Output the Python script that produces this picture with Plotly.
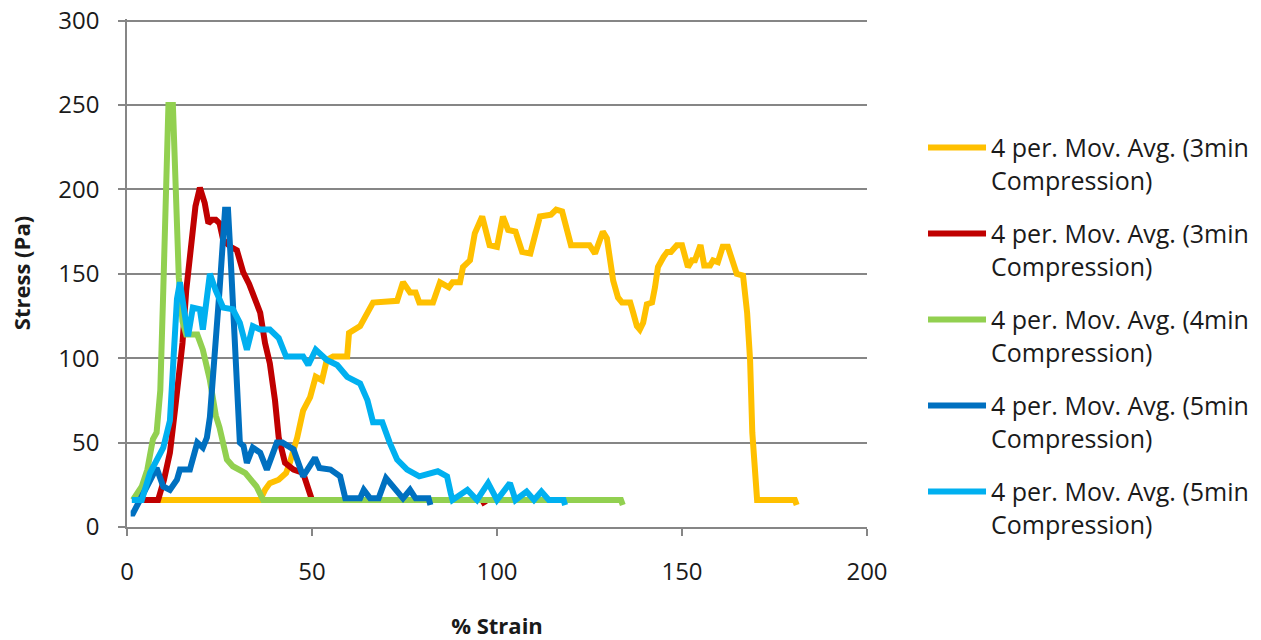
import plotly.graph_objects as go

# ---- data ----
names = ["4 per. Mov. Avg. (3min<br>Compression)"] * 2 + \
        ["4 per. Mov. Avg. (4min<br>Compression)"] + \
        ["4 per. Mov. Avg. (5min<br>Compression)"] * 2
colors = ["#FFC000", "#C00000", "#92D050", "#0070C0", "#00B0F0"]

yellow_x = [2, 36, 37.3, 38.6, 41, 43, 44, 46, 47.6, 49.5, 51, 52.7, 54, 55.7, 59.5, 60, 63, 65, 66.5, 73,
            74.6, 76.5, 78, 79, 82.7, 84.6, 87, 88, 90, 90.8, 92.7, 94, 96, 98, 100, 101.6, 103, 105, 106.8,
            109, 110, 111.6, 114.6, 116, 117.6, 119, 120, 125, 126.5, 128.6, 129.7, 131.4, 132.7, 133.8, 136,
            136.8, 137.8, 138.6, 139.5, 140.5, 141.9, 142.7, 143.5, 145, 146, 147, 148.6, 150, 150.8, 151.6,
            152.7, 153.5, 155, 156, 157.6, 158.4, 159.7, 161, 162.4, 163.8, 164.8, 166.5, 167.6, 168.4, 169,
            170.3, 180.5, 181]
yellow_y = [16, 16, 22, 26, 28, 32, 38, 53, 69, 77, 89, 87, 99, 101, 101, 115, 119, 127, 133, 134,
            145, 139, 139, 133, 133, 145, 142, 145, 145, 154, 158, 174, 184, 167, 166, 184, 176, 175, 163,
            162, 170, 184, 185, 188, 187, 174, 167, 167, 162, 175, 171, 146, 136, 133, 133,
            127, 119, 117, 121, 132, 133, 142, 154, 160, 163, 163, 167, 167, 159, 154,
            158, 158, 167, 155, 155, 158, 157, 166, 166, 155, 150, 149, 127, 99, 56,
            16, 16, 13]

red_x = [2, 8.4, 10, 11.6, 13, 15, 16, 17.5, 18.5, 19.7, 21, 22, 23, 24, 25, 26, 28, 29.7, 31.4, 33, 35,
         36, 37.3, 38.6, 40, 41, 42.7, 45, 47.6, 49.5, 50, 96, 96.8]
red_y = [16, 16, 28, 44, 70, 109, 140, 170, 190, 201, 192, 180, 182, 182, 180, 170, 166, 164, 151, 144, 134,
         127, 109, 97, 75, 53, 38, 34, 32, 20, 16, 16, 13]

green_x = [1.6, 4, 5.5, 7, 8, 9, 9.8, 10.7, 11.2, 12.4, 13, 14, 15, 16, 17, 19, 20.5, 22.4, 24, 25, 27,
           28.6, 32, 35, 36.8, 38, 133.5, 134]
green_y = [16, 24, 34, 52, 56, 81, 140, 229, 250, 250, 200, 148, 122, 114, 114, 114, 105, 87, 66, 59, 40,
           36, 32, 24, 16, 16, 16, 13]

dblue_x = [1, 1.6, 3.5, 6.2, 8, 9.8, 11.6, 13.5, 14.3, 17, 19, 20.5, 21.6, 22.4, 23, 24, 25, 26.5, 27.3,
           28, 29, 29.7, 30.5, 31.5, 32.4, 34, 36, 37.8, 40.5, 42, 45, 47.6, 50.8, 52, 55, 57.6, 59, 63, 64,
           65.7, 68, 70, 73, 74.6, 76.5, 78, 81.5, 82]
dblue_y = [8, 8, 16, 28, 35, 24, 22, 28, 34, 34, 50, 47, 53, 65, 81, 110, 140, 188, 188,
           160, 110, 75, 50, 48, 38, 47, 44, 34, 50, 50, 46, 30, 41, 35, 34, 30, 17, 17, 22,
           17, 17, 29, 22, 17, 22, 17, 17, 13]

lblue_x = [1.3, 4, 6.2, 8, 9.8, 11.6, 12.4, 13.5, 14.3, 15, 16.5, 17.8, 19.7, 20.5, 22.4, 24, 26, 28.6,
           30.5, 32.4, 34, 36, 38.6, 41, 43, 47.6, 49, 51, 54, 56.8, 59.5, 63, 65, 66.5, 69, 71, 73, 75.7,
           79, 84, 86.5, 87.5, 88, 92, 94.6, 97.6, 100, 103.5, 105, 108, 110, 112, 114, 118, 118.4]
lblue_y = [16, 16, 32, 40, 47, 63, 101, 135, 145, 133, 113, 130, 129, 117, 150, 140, 130, 129,
           121, 105, 119, 117, 117, 112, 101, 101, 96, 105, 99, 96, 89, 85, 75, 62, 62, 50, 40, 34,
           30, 33, 30, 20, 16, 22, 16, 26, 16, 26, 16, 21, 16, 21, 16, 16, 13]

xs = [yellow_x, red_x, green_x, dblue_x, lblue_x]
ys = [yellow_y, red_y, green_y, dblue_y, lblue_y]

x_ticks = [0, 50, 100, 150, 200]
y_ticks = [0, 50, 100, 150, 200, 250, 300]

FONT = "Open Sans"
TXT = "#1a1a1a"
GRID = "#868686"

fig = go.Figure()
for i in range(5):
    fig.add_trace(go.Scatter(
        x=xs[i], y=ys[i], mode="lines", name=names[i],
        legendgroup="g%d" % i,
        line=dict(color=colors[i], width=6),
    ))

fig.update_layout(
    width=1261, height=640,
    margin=dict(l=127, r=394, t=19, b=113, autoexpand=False),
    paper_bgcolor="white", plot_bgcolor="white",
    font=dict(family=FONT, size=24, color=TXT),
    showlegend=True,
    legend=dict(
        x=1.0757, xanchor="left", y=0.792, yanchor="top",
        valign="top", itemwidth=58, tracegroupgap=18,
        font=dict(family=FONT, size=25, color=TXT),
        bgcolor="rgba(0,0,0,0)",
    ),
    xaxis=dict(
        range=[0, 200], tickvals=x_ticks, ticktext=[str(v) for v in x_ticks],
        showline=True, linecolor=GRID, linewidth=1.5,
        ticks="outside", ticklen=7, tickcolor=GRID, tickwidth=1.5,
        ticklabelstandoff=15, ticklabeloverflow="allow",
        showgrid=False, zeroline=False,
        tickfont=dict(family=FONT, size=24, color=TXT),
        title=dict(text="<b>% Strain</b>", font=dict(family=FONT, size=22, color=TXT), standoff=33),
    ),
    yaxis=dict(
        range=[0, 301], tickvals=y_ticks, ticktext=[str(v) for v in y_ticks],
        showline=True, linecolor=GRID, linewidth=1.5,
        ticks="outside", ticklen=7, tickcolor=GRID, tickwidth=1.5,
        ticklabelstandoff=14, ticklabeloverflow="allow",
        showgrid=True, gridcolor=GRID, gridwidth=1.5,
        zeroline=False,
        tickfont=dict(family=FONT, size=24, color=TXT),
        title=dict(text="<b>Stress (Pa)</b>", font=dict(family=FONT, size=22, color=TXT), standoff=22),
    ),
)

fig.write_html("out.html", config={"displayModeBar": False},
               post_script="document.body.style.margin='0';")
